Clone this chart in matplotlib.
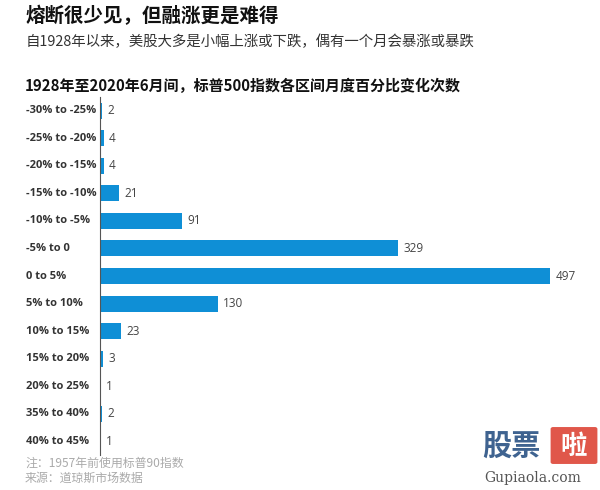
import matplotlib
matplotlib.use("Agg")
import matplotlib.pyplot as plt
from matplotlib.patches import FancyBboxPatch

plt.rcParams['font.family'] = ['Noto Sans CJK SC', 'DejaVu Sans']

# data
ranges = ["-30% to -25%", "-25% to -20%", "-20% to -15%", "-15% to -10%",
          "-10% to -5%", "-5% to 0", "0 to 5%", "5% to 10%", "10% to 15%",
          "15% to 20%", "20% to 25%", "35% to 40%", "40% to 45%"]
counts = [2, 4, 4, 21, 91, 329, 497, 130, 23, 3, 1, 2, 1]

title = "熔断很少见，但融涨更是难得"
subtitle = "自1928年以来，美股大多是小幅上涨或下跌，偶有一个月会暴涨或暴跌"
chart_title = "1928年至2020年6月间，标普500指数各区间月度百分比变化次数"
notes = ["注：1957年前使用标普90指数", "来源：道琼斯市场数据"]

bar_color = "#0f8fd6"

fig = plt.figure(figsize=(6, 4.9), dpi=100)
ax = fig.add_axes([100/600, 1 - 455/490, 490/600, 358/490])

y = list(range(len(ranges)))
ax.barh(y, counts, height=0.58, color=bar_color)
for yi, c in zip(y, counts):
    ax.text(c + 6, yi, str(c), va='center', ha='left', fontsize=8.5,
            color='#444444', family=['Open Sans', 'DejaVu Sans'])

ax.set_xlim(0, 497 * 490 / 450)
ax.set_ylim(len(ranges) - 0.5, -0.5)
ax.set_yticks(y)
ax.set_yticklabels([])
for yi, lab in zip(y, ranges):
    ax.text(-74 / 0.9, yi, lab, va='center', ha='left', fontsize=8,
            fontweight='bold', color='#333333', family=['Open Sans', 'DejaVu Sans'])
ax.set_xticks([])
ax.tick_params(left=False)
for s in ['top', 'right', 'bottom']:
    ax.spines[s].set_visible(False)
ax.spines['left'].set_color('#555555')
ax.spines['left'].set_linewidth(0.8)

# titles
fig.text(25/600, 1 - 16/490, title, fontsize=14, fontweight='bold',
         va='center', ha='left', color='#111111')
fig.text(26/600, 1 - 42/490, subtitle, fontsize=10.4,
         va='center', ha='left', color='#333333')
fig.text(25/600, 1 - 86/490, chart_title, fontsize=10.8, fontweight='bold',
         va='center', ha='left', color='#111111')
fig.text(25/600, 1 - 463/490, notes[0], fontsize=8.6,
         va='center', ha='left', color='#aaaaaa')
fig.text(25/600, 1 - 478/490, notes[1], fontsize=8.6,
         va='center', ha='left', color='#aaaaaa')

# watermark
fig.text(482/600, 1 - 446/490, "股票", fontsize=21, fontweight='bold',
         va='center', ha='left', color='#3f6390')
fig.patches.append(FancyBboxPatch((553/600, 1 - 462/490), 42/600, 33/490,
                                  boxstyle="round,pad=0.004", transform=fig.transFigure,
                                  facecolor='#e0574a', edgecolor='none'))
fig.text(574/600, 1 - 446/490, "啦", fontsize=19, fontweight='bold',
         va='center', ha='center', color='white')
fig.text(484/600, 1 - 478/490, "Gupiaola.com", fontsize=10,
         va='center', ha='left', color='#555555', family=['DejaVu Serif'])

fig.savefig("out.png", dpi=100)
